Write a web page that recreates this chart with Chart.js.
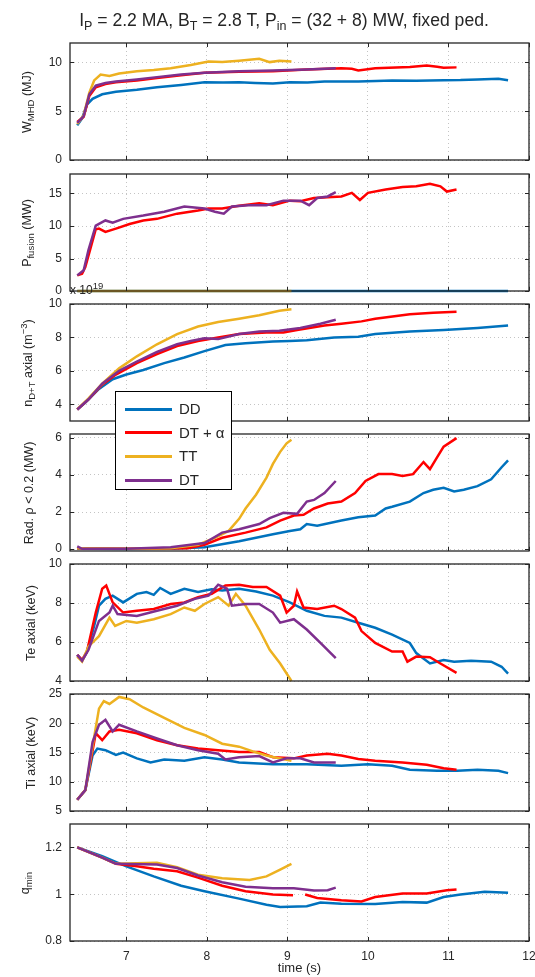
<!DOCTYPE html>
<html>
<head>
<meta charset="utf-8">
<script src="https://cdn.jsdelivr.net/npm/chart.js@4"></script>
<style>
  body { margin: 0; background: #fff; font-family: "Liberation Sans", Arial, sans-serif; color: #262626; }
  #wrap { position: relative; width: 535px; height: 977px; overflow: hidden; }
  canvas { position: absolute; left: 0; }
  .title { position: absolute; left: 0; width: 568px; top: 10px; text-align: center; font-size: 17.6px; white-space: nowrap; }
  .title sub { font-size: 12.5px; vertical-align: -4px; }
  .ylab { position: absolute; width: 200px; height: 16px; line-height: 16px; text-align: center;
          font-size: 12.5px; white-space: nowrap; transform: rotate(-90deg); }
  sub { font-size: 9.5px; vertical-align: -3px; line-height: 0; }
  sup { font-size: 9.5px; vertical-align: 5px; line-height: 0; }
  .exp { position: absolute; left: 70px; top: 283px; font-size: 12px; }
  #legend { position: absolute; left: 115px; top: 391px; width: 117px; height: 99px; border: 1.5px solid #000;
            background: #fff; padding-top: 5px; box-sizing: border-box; font-size: 15px; }
  #legend .item { height: 23.7px; line-height: 23.7px; position: relative; padding-left: 63px; }
  #legend .sw { position: absolute; left: 9px; top: 10.5px; width: 47px; height: 3px; }
</style>
</head>
<body>
<div id="wrap">
  <div class="title">I<sub>P</sub> = 2.2 MA, B<sub>T</sub> = 2.8 T, P<sub>in</sub> = (32 + 8) MW, fixed ped.</div>
  <div id="legend"></div>
</div>
<script>
const seriesNames = ['DD', 'DT + α', 'TT', 'DT'];
const seriesColors = ['#0072BD', '#FF0000', '#EDB120', '#7E2F8E'];

// W_MHD (MJ)
const wmhdDD = [[6.39,3.55],[6.45,4.26],[6.51,5.67],[6.58,6.28],[6.7,6.74],[6.87,6.99],[7.13,7.2],[7.38,7.45],[7.68,7.7],[7.97,7.98],[8.2,7.95],[8.4,7.98],[8.6,7.9],[8.82,7.84],[9.03,7.98],[9.25,7.95],[9.46,8.05],[9.88,8.05],[10.1,8.1],[10.3,8.16],[10.6,8.12],[10.94,8.19],[11.15,8.2],[11.36,8.26],[11.62,8.33],[11.74,8.19]];
const wmhdDTa = [[6.39,3.9],[6.47,4.43],[6.54,6.56],[6.62,7.45],[6.74,7.8],[6.87,7.98],[7.13,8.16],[7.38,8.4],[7.68,8.69],[7.97,8.94],[8.4,9.04],[8.82,9.11],[9.24,9.29],[9.67,9.4],[9.8,9.35],[9.88,9.18],[10.09,9.4],[10.52,9.54],[10.73,9.68],[10.86,9.57],[10.94,9.47],[11.1,9.5]];
const wmhdTT = [[6.39,3.7],[6.47,4.6],[6.54,6.9],[6.6,8.16],[6.68,8.76],[6.79,8.62],[6.91,8.87],[7.13,9.11],[7.34,9.22],[7.55,9.4],[7.8,9.75],[8.02,10.1],[8.19,10.04],[8.4,10.18],[8.65,10.39],[8.78,10.04],[8.9,10.18],[9.05,10.1]];
const wmhdDT = [[6.39,3.8],[6.47,4.5],[6.54,6.74],[6.62,7.62],[6.74,7.9],[6.87,8.05],[7.13,8.26],[7.38,8.5],[7.68,8.76],[7.97,8.94],[8.4,9.11],[8.82,9.18],[9.24,9.29],[9.6,9.4]];

// P_fusion (MW)
const pfusDD = [[6.39,0],[11.74,0]];
const pfusDTa = [[6.39,2.4],[6.45,2.65],[6.49,3.7],[6.55,6.35],[6.62,9.5],[6.66,9.6],[6.74,9.1],[6.87,9.6],[7.04,10.3],[7.21,10.85],[7.38,11.1],[7.63,11.9],[7.89,12.4],[8.02,12.7],[8.19,12.7],[8.4,13.1],[8.65,13.5],[8.82,13.2],[9.03,13.9],[9.16,13.8],[9.33,14.3],[9.67,14.55],[9.8,15.1],[9.9,14.0],[10.0,15.1],[10.22,15.6],[10.43,16.0],[10.6,16.1],[10.77,16.5],[10.9,16.1],[10.98,15.3],[11.1,15.6]];
const pfusTT = [[6.39,0],[9.05,0]];
const pfusDT = [[6.39,2.4],[6.47,3.2],[6.53,6.35],[6.62,10.05],[6.74,10.85],[6.83,10.5],[6.96,11.1],[7.21,11.6],[7.47,12.2],[7.72,13.0],[7.97,12.7],[8.1,12.2],[8.21,11.9],[8.31,13.0],[8.52,13.2],[8.74,13.2],[8.95,13.9],[9.16,13.9],[9.27,13.2],[9.37,14.3],[9.5,14.55],[9.6,15.2]];

// n_D+T axial (1e19 m^-3)
const densDD = [[6.39,3.69],[6.49,4.1],[6.66,4.92],[6.83,5.5],[7.0,5.78],[7.21,6.05],[7.47,6.46],[7.72,6.8],[7.97,7.18],[8.23,7.55],[8.48,7.65],[8.82,7.75],[9.03,7.79],[9.24,7.83],[9.58,8.0],[9.88,8.04],[10.09,8.2],[10.52,8.36],[10.94,8.45],[11.15,8.5],[11.36,8.57],[11.74,8.71]];
const densDTa = [[6.39,3.69],[6.53,4.3],[6.7,5.17],[6.87,5.78],[7.13,6.46],[7.38,7.0],[7.63,7.48],[7.89,7.79],[8.14,8.0],[8.4,8.2],[8.74,8.3],[8.95,8.3],[9.12,8.45],[9.46,8.71],[9.67,8.82],[9.92,8.96],[10.09,9.12],[10.52,9.39],[10.81,9.47],[11.1,9.53]];
const densTT = [[6.39,3.69],[6.53,4.35],[6.7,5.23],[6.91,6.15],[7.13,6.87],[7.38,7.59],[7.63,8.2],[7.89,8.65],[8.14,8.92],[8.4,9.12],[8.65,9.33],[8.9,9.6],[9.05,9.68]];
const densDT = [[6.39,3.69],[6.53,4.3],[6.7,5.23],[6.91,6.0],[7.13,6.56],[7.38,7.13],[7.63,7.59],[7.8,7.79],[7.97,7.95],[8.14,7.9],[8.4,8.2],[8.65,8.36],[8.9,8.4],[9.16,8.57],[9.41,8.82],[9.6,9.06]];

// Rad. rho < 0.2 (MW)
const radDD = [[6.39,0.02],[7.0,0.01],[7.55,0.02],[7.97,0.1],[8.4,0.43],[8.82,0.8],[9.03,0.98],[9.16,1.07],[9.24,1.35],[9.37,1.26],[9.67,1.54],[9.88,1.72],[10.09,1.81],[10.22,2.19],[10.3,2.28],[10.52,2.56],[10.69,3.02],[10.81,3.2],[10.94,3.3],[11.07,3.11],[11.19,3.2],[11.36,3.39],[11.53,3.76],[11.66,4.41],[11.74,4.78]];
const radDTa = [[6.39,0.05],[7.0,0.02],[7.76,0.05],[7.97,0.24],[8.19,0.61],[8.48,0.89],[8.74,1.17],[8.91,1.54],[9.08,1.81],[9.2,1.85],[9.33,2.19],[9.5,2.46],[9.67,2.56],[9.84,3.02],[9.97,3.67],[10.13,4.04],[10.3,4.04],[10.43,3.94],[10.56,4.04],[10.69,4.69],[10.77,4.31],[10.86,4.96],[10.94,5.52],[11.1,5.98]];
const radTT = [[6.39,0.05],[7.0,0.02],[7.55,0.05],[7.89,0.24],[8.1,0.61],[8.27,0.98],[8.4,1.63],[8.48,2.19],[8.61,2.93],[8.74,3.85],[8.82,4.59],[8.91,5.24],[8.99,5.7],[9.05,5.89]];
const radDT = [[6.39,0.15],[6.45,0.02],[7.0,0.02],[7.55,0.1],[7.97,0.33],[8.19,0.89],[8.4,1.07],[8.65,1.35],[8.78,1.67],[8.95,1.96],[9.12,1.9],[9.24,2.56],[9.33,2.65],[9.46,3.02],[9.6,3.67]];

// Te axial (keV)
const teDD = [[6.39,5.34],[6.45,5.04],[6.51,5.5],[6.6,6.82],[6.66,7.86],[6.74,8.21],[6.83,8.38],[6.96,8.03],[7.13,8.47],[7.25,8.56],[7.34,8.42],[7.42,8.77],[7.55,8.47],[7.72,8.73],[7.89,8.56],[8.06,8.7],[8.19,8.64],[8.4,8.73],[8.61,8.59],[8.82,8.38],[9.03,8.03],[9.24,7.6],[9.46,7.34],[9.67,7.25],[9.88,6.99],[10.09,6.73],[10.3,6.38],[10.52,5.95],[10.6,5.43],[10.77,4.9],[10.94,5.08],[11.07,4.99],[11.28,5.04],[11.53,4.99],[11.66,4.73],[11.74,4.38]];
const teDTa = [[6.39,5.34],[6.45,5.08],[6.51,5.5],[6.62,7.51],[6.7,8.73],[6.75,8.9],[6.83,8.03],[6.96,7.51],[7.13,7.6],[7.34,7.69],[7.55,7.95],[7.72,8.03],[7.89,8.3],[8.06,8.47],[8.23,8.9],[8.4,8.94],[8.57,8.82],[8.74,8.82],[8.91,8.38],[8.99,7.51],[9.08,7.86],[9.12,8.59],[9.2,7.77],[9.37,7.69],[9.58,7.86],[9.67,7.69],[9.84,7.25],[9.92,6.56],[10.09,5.95],[10.3,5.51],[10.43,5.51],[10.49,4.99],[10.6,5.25],[10.77,5.22],[10.9,4.9],[11.1,4.42]];
const teTT = [[6.39,5.25],[6.45,5.0],[6.53,5.77],[6.66,6.3],[6.79,7.25],[6.86,6.82],[7.0,7.08],[7.13,6.99],[7.34,7.17],[7.55,7.43],[7.72,7.77],[7.85,7.6],[7.97,7.95],[8.14,8.3],[8.27,7.86],[8.36,8.47],[8.48,7.86],[8.65,6.64],[8.78,5.6],[8.91,4.9],[9.05,4.0]];
const teDT = [[6.39,5.34],[6.45,5.04],[6.53,5.6],[6.66,7.08],[6.79,7.51],[6.83,7.86],[6.89,7.43],[7.13,7.34],[7.38,7.6],[7.63,7.86],[7.85,8.21],[8.02,8.38],[8.14,8.94],[8.25,8.73],[8.31,7.86],[8.48,7.95],[8.65,7.95],[8.82,7.51],[8.91,6.99],[9.08,7.17],[9.24,6.64],[9.41,5.95],[9.6,5.17]];

// Ti axial (keV)
const tiDD = [[6.39,6.92],[6.49,8.56],[6.58,14.5],[6.64,15.67],[6.74,15.4],[6.87,14.6],[6.96,15.0],[7.13,14.0],[7.3,13.3],[7.47,13.8],[7.72,13.6],[7.97,14.2],[8.19,13.8],[8.4,13.3],[8.82,13.0],[9.24,13.0],[9.67,12.75],[10.0,13.0],[10.3,12.75],[10.52,12.05],[10.86,11.88],[11.11,11.88],[11.36,12.05],[11.62,11.88],[11.74,11.47]];
const tiDTa = [[6.39,6.92],[6.49,8.56],[6.62,18.3],[6.7,17.1],[6.79,18.6],[6.91,18.9],[7.13,18.3],[7.38,17.1],[7.63,16.25],[7.89,15.67],[8.14,15.4],[8.4,15.1],[8.65,15.1],[8.82,14.2],[9.08,14.0],[9.24,14.5],[9.5,14.8],[9.67,14.5],[9.88,13.9],[10.09,13.6],[10.43,13.3],[10.73,12.9],[10.94,12.3],[11.1,12.05]];
const tiTT = [[6.39,6.92],[6.49,8.56],[6.58,16.0],[6.66,22.5],[6.72,23.8],[6.79,23.3],[6.91,24.5],[7.04,24.1],[7.21,22.7],[7.47,20.9],[7.72,19.2],[7.97,18.0],[8.19,16.5],[8.4,16.0],[8.57,15.2],[8.74,14.5],[8.9,14.0],[9.05,13.6]];
const tiDT = [[6.39,6.92],[6.49,8.56],[6.58,16.8],[6.66,19.75],[6.74,20.6],[6.83,18.6],[6.91,19.75],[7.13,18.6],[7.38,17.4],[7.63,16.25],[7.89,15.4],[8.14,14.8],[8.23,13.8],[8.4,14.2],[8.65,14.4],[8.82,13.3],[8.99,14.0],[9.16,14.0],[9.33,13.3],[9.6,13.3]];

// q_min
const qDD = [[6.39,1.2],[6.7,1.163],[7.0,1.119],[7.34,1.076],[7.68,1.036],[7.97,1.013],[8.4,0.981],[8.74,0.955],[8.91,0.945],[9.24,0.949],[9.41,0.964],[9.67,0.959],[10.09,0.958],[10.43,0.967],[10.73,0.964],[10.94,0.988],[11.15,0.999],[11.45,1.01],[11.74,1.006]];
const qDTa = [[6.39,1.2],[6.7,1.156],[6.87,1.13],[7.13,1.119],[7.34,1.109],[7.63,1.098],[7.89,1.071],[8.19,1.036],[8.48,1.013],[8.82,0.999],[9.07,0.996],[9.14,null],[9.22,0.999],[9.37,0.984],[9.67,0.974],[9.92,0.969],[10.09,0.988],[10.43,1.003],[10.73,1.003],[10.98,1.017],[11.1,1.02]];
const qTT = [[6.39,1.2],[6.7,1.156],[6.87,1.13],[7.38,1.134],[7.63,1.115],[7.89,1.083],[8.19,1.068],[8.53,1.061],[8.74,1.076],[8.91,1.105],[9.05,1.13]];
const qDT = [[6.39,1.2],[6.7,1.156],[6.87,1.13],[7.38,1.127],[7.63,1.112],[7.89,1.08],[8.19,1.051],[8.48,1.032],[8.82,1.025],[9.08,1.025],[9.33,1.016],[9.5,1.017],[9.6,1.028]];

const panels = [
  { series: [wmhdDD, wmhdDTa, wmhdTT, wmhdDT], min: 0, max: 12, step: 5, label: 'W<sub>MHD</sub> (MJ)', lx: 27 },
  { series: [pfusDD, pfusDTa, pfusTT, pfusDT], min: 0, max: 18, step: 5, label: 'P<sub>fusion</sub> (MW)', lx: 27 },
  { series: [densDD, densDTa, densTT, densDT], min: 3, max: 10, step: 2, label: 'n<sub>D+T</sub> axial (m<sup>−3</sup>)', lx: 28 },
  { series: [radDD, radDTa, radTT, radDT], min: -0.1, max: 6.2, step: 2, label: 'Rad. ρ &lt; 0.2 (MW)', lx: 29 },
  { series: [teDD, teDTa, teTT, teDT], min: 4, max: 10, step: 2, label: 'Te axial (keV)', lx: 31 },
  { series: [tiDD, tiDTa, tiTT, tiDT], min: 5, max: 25, step: 5, label: 'Ti axial (keV)', lx: 31 },
  { series: [qDD, qDTa, qTT, qDT], min: 0.8, max: 1.3, step: 0.2, label: 'q<sub>min</sub>', lx: 25 }
];

const panelTops = [43, 174, 304, 434, 564, 694, 824];
const panelH = 117;
const pad = 10;

// box and inward ticks, like the original axes
const framePlugin = {
  id: 'frame',
  afterDatasetsDraw(chart) {
    const { ctx, chartArea: a, scales } = chart;
    ctx.save();
    ctx.strokeStyle = '#262626';
    ctx.lineWidth = 1;
    ctx.beginPath();
    scales.x.ticks.forEach(t => {
      const px = Math.round(scales.x.getPixelForValue(t.value)) + 0.5;
      ctx.moveTo(px, a.bottom); ctx.lineTo(px, a.bottom - 4);
      ctx.moveTo(px, a.top); ctx.lineTo(px, a.top + 4);
    });
    scales.y.ticks.forEach(t => {
      const py = Math.round(scales.y.getPixelForValue(t.value)) + 0.5;
      ctx.moveTo(a.left, py); ctx.lineTo(a.left + 4, py);
      ctx.moveTo(a.right, py); ctx.lineTo(a.right - 4, py);
    });
    ctx.stroke();
    ctx.lineWidth = 1.3;
    ctx.strokeRect(a.left, a.top, a.right - a.left, a.bottom - a.top);
    ctx.restore();
  }
};

const wrap = document.getElementById('wrap');
const font = { family: '"Liberation Sans", Arial, sans-serif', size: 12 };

panels.forEach((p, i) => {
  const last = i === panels.length - 1;
  const bottomSpace = last ? 977 - (panelTops[i] + panelH) : pad;
  const h = pad + panelH + bottomSpace;
  const cv = document.createElement('canvas');
  cv.width = 535; cv.height = h;
  cv.style.top = (panelTops[i] - pad) + 'px';
  wrap.insertBefore(cv, wrap.firstChild);

  const lab = document.createElement('div');
  lab.className = 'ylab';
  lab.innerHTML = p.label;
  lab.style.left = (p.lx - 100) + 'px';
  lab.style.top = (panelTops[i] + panelH / 2 - 8) + 'px';
  wrap.appendChild(lab);

  new Chart(cv, {
    type: 'line',
    data: {
      datasets: p.series.map((s, k) => ({
        label: seriesNames[k],
        data: s.map(v => ({ x: v[0], y: v[1] })),
        borderColor: seriesColors[k],
        borderWidth: 2.5,
        pointRadius: 0,
        tension: 0,
        spanGaps: false,
        clip: 3,
        order: 4 - k
      }))
    },
    options: {
      responsive: false,
      animation: false,
      devicePixelRatio: 1,
      layout: { padding: { top: pad, right: 6, left: 0, bottom: 0 } },
      plugins: { legend: { display: false }, tooltip: { enabled: false } },
      scales: {
        x: {
          type: 'linear', min: 6.3, max: 12,
          ticks: { stepSize: 1, includeBounds: false, display: last, padding: 8, color: '#262626', font: font, maxRotation: 0 },
          grid: { color: '#c4c4c4', drawTicks: false },
          border: { display: false, dash: [1, 3] },
          title: { display: last, text: 'time (s)', color: '#262626', font: { family: font.family, size: 13 }, padding: { top: 0, bottom: 1 } },
          afterFit: s => { s.height = bottomSpace; s.paddingLeft = 0; s.paddingRight = 0; }
        },
        y: {
          min: p.min, max: p.max,
          ticks: { stepSize: p.step, includeBounds: false, padding: 8, color: '#262626', font: font,
                   callback: v => String(Math.round(v * 10) / 10) },
          grid: { color: '#c4c4c4', drawTicks: false },
          border: { display: false, dash: [1, 3] },
          afterFit: s => { s.width = 70; s.paddingTop = 0; s.paddingBottom = 0; }
        }
      }
    },
    plugins: [framePlugin]
  });
});

// multiplier of the density axis
const exp = document.createElement('div');
exp.className = 'exp';
exp.innerHTML = 'x 10<sup>19</sup>';
wrap.appendChild(exp);

// legend box
const legend = document.getElementById('legend');
seriesNames.forEach((n, k) => {
  const it = document.createElement('div');
  it.className = 'item';
  it.innerHTML = '<span class="sw" style="background:' + seriesColors[k] + '"></span>' + n;
  legend.appendChild(it);
});
wrap.appendChild(legend);
</script>
</body>
</html>
